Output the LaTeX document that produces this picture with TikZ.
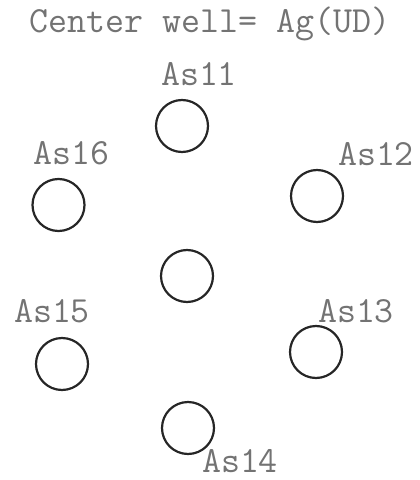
\documentclass[tikz,border=0pt]{standalone}
\usepackage{fontspec}
\begin{document}
\begin{tikzpicture}[x=1bp,y=-1bp,
  well/.style={circle,draw=black!85,line width=2.2bp,minimum size=52bp,inner sep=0pt},
  lab/.style={anchor=base,inner sep=0pt,text=black!55,font=\fontsize{37}{42}\selectfont\ttfamily}]
\useasboundingbox (0,0) rectangle (419,480);
\node[lab] (title) at (210,33) {Center well= Ag(UD)};
\node[well] (w11) at (182,126) {};
\node[well] (w16) at (58.5,205) {};
\node[well] (w12) at (317,196) {};
\node[well] (wc) at (187,276) {};
\node[well] (w15) at (62,364) {};
\node[well] (w13) at (316,352) {};
\node[well] (w14) at (188,428) {};
\node[lab] (l11) at (199,86) {As11};
\node[lab] (l16) at (71,165) {As16};
\node[lab] (l12) at (376,166) {As12};
\node[lab] (l15) at (52,322) {As15};
\node[lab] (l13) at (356,322) {As13};
\node[lab] (l14) at (240,472) {As14};
\end{tikzpicture}
\end{document}
